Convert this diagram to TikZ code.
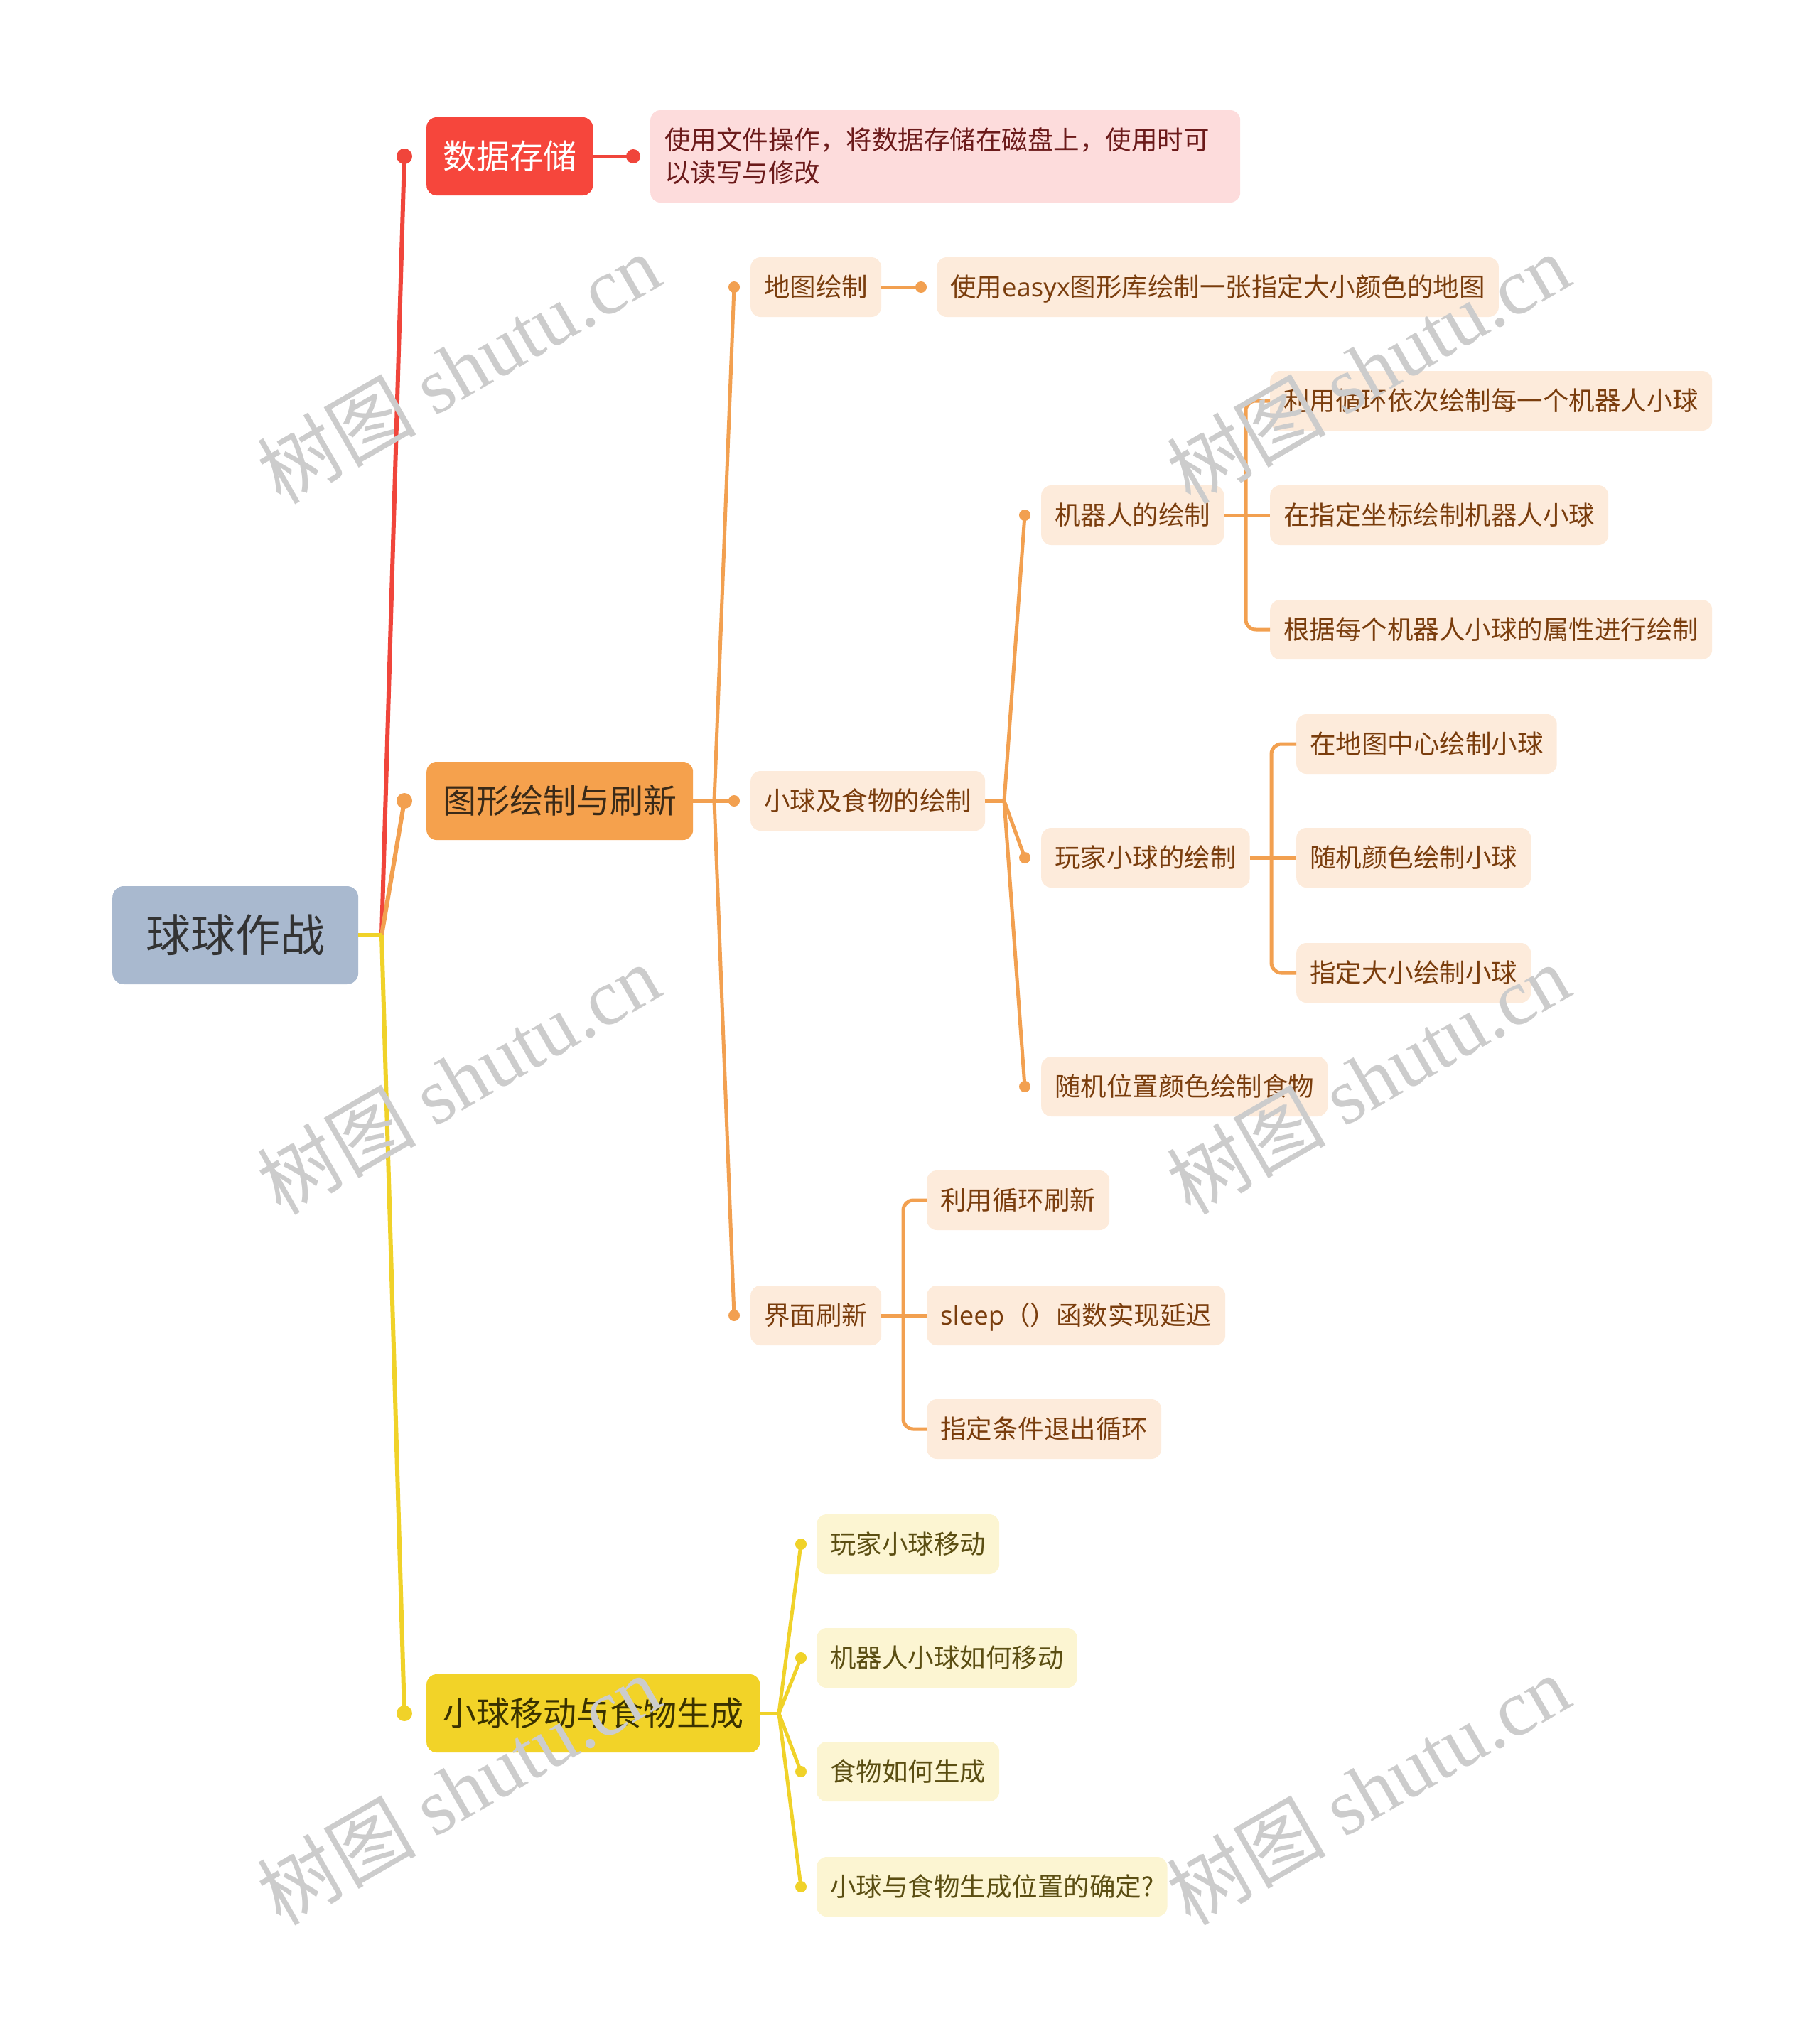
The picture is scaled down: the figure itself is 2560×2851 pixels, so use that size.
\documentclass[tikz,border=0pt]{standalone}
\usepackage{fontspec}
\setmainfont{Noto Sans CJK SC}
\newfontfamily\wmserif{Liberation Serif}
\newfontfamily\wmcjk{Noto Sans CJK SC}
\newfontfamily\latinpart{Open Sans}
\definecolor{cRoot}{HTML}{A9B9CF}
\definecolor{cRootTxt}{HTML}{333333}
\definecolor{cRed}{HTML}{F6463C}
\definecolor{cRedLine}{HTML}{F0453B}
\definecolor{cRedLeaf}{HTML}{FDDCDC}
\definecolor{cRedTxt}{HTML}{6B1A1A}
\definecolor{cOr}{HTML}{F5A14D}
\definecolor{cOrLine}{HTML}{F2A050}
\definecolor{cOrLeaf}{HTML}{FDEBDB}
\definecolor{cOrTxt}{HTML}{7A3D0D}
\definecolor{cOrMainTxt}{HTML}{3A2A18}
\definecolor{cYe}{HTML}{F2D328}
\definecolor{cYeLine}{HTML}{F0D229}
\definecolor{cYeLeaf}{HTML}{FCF5D2}
\definecolor{cYeTxt}{HTML}{5B4E12}
\definecolor{cYeMainTxt}{HTML}{3A3200}
\definecolor{cWm}{HTML}{CCCCCC}
\begin{document}
\begin{tikzpicture}[x=1pt,y=-1pt,
  basebox/.style={rounded corners=14pt, anchor=west, inner ysep=0pt},
  leafbox/.style={basebox, font=\fontsize{36.5pt}{46pt}\selectfont, inner xsep=19pt,
    minimum height=84pt, text height=31pt, text depth=5pt},
  leafO/.style={leafbox, fill=cOrLeaf, text=cOrTxt},
  leafY/.style={leafbox, fill=cYeLeaf, text=cYeTxt},
  mainbox/.style={basebox, font=\fontsize{47pt}{56pt}\selectfont, inner xsep=23pt,
    minimum height=110pt, text height=41pt, text depth=6pt},
  rootbox/.style={basebox, fill=cRoot, text=cRootTxt, font=\fontsize{63pt}{70pt}\selectfont,
    inner xsep=47pt, minimum height=138pt, text height=55pt, text depth=8pt, rounded corners=16pt},
  lineR/.style={draw=cRedLine, line width=6pt},
  lineO/.style={draw=cOrLine, line width=6pt},
  lineY/.style={draw=cYeLine, line width=6pt},
  subO/.style={draw=cOrLine, line width=5pt},
  subY/.style={draw=cYeLine, line width=5pt},
  elbowO/.style={draw=cOrLine, line width=5pt, rounded corners=14pt},
  wm/.style={text=cWm, rotate=30, font=\fontsize{112pt}{112pt}\selectfont, inner sep=0pt},
]
\useasboundingbox (0,0) rectangle (2560,2851);

% ---------- root ----------
\node[rootbox] (root) at (158,1316) {球球作战};
\coordinate (J0) at (537,1316);
\coordinate (dR) at (569,220);
\coordinate (dO) at (569,1127);
\coordinate (dY) at (569,2411);

% ---------- red branch ----------
\node[mainbox, fill=cRed, text=white] (n1) at (600,220) {数据存储};
\node[basebox, fill=cRedLeaf, text=cRedTxt, font=\fontsize{36.5pt}{46pt}\selectfont,
  text width=790pt, align=left, inner xsep=20pt, minimum height=130pt] (n1a) at (915,220)
  {使用文件操作，将数据存储在磁盘上，使用时可\\以读写与修改};
\coordinate (d1a) at (891,220);

% ---------- orange branch ----------
\node[mainbox, fill=cOr, text=cOrMainTxt] (n2) at (600,1127) {图形绘制与刷新};
\coordinate (J2) at (1005,1127);
\coordinate (d21) at (1033,404);
\coordinate (d22) at (1033,1127);
\coordinate (d23) at (1033,1851);
\node[leafO] (n21) at (1056,404) {地图绘制};
\coordinate (d21a) at (1296,404);
\node[leafO] (n21a) at (1318,404) {使用{\latinpart easyx}图形库绘制一张指定大小颜色的地图};

\node[leafO] (n22) at (1056,1127) {小球及食物的绘制};
\coordinate (J22) at (1413,1127);
\coordinate (d221) at (1442,725);
\coordinate (d222) at (1442,1207);
\coordinate (d223) at (1442,1529);
\node[leafO] (n221) at (1465,725) {机器人的绘制};
\node[leafO] (n222) at (1465,1207) {玩家小球的绘制};
\node[leafO] (n223) at (1465,1529) {随机位置颜色绘制食物};

\coordinate (B221) at (1753,725);
\node[leafO] (n2211) at (1787,564) {利用循环依次绘制每一个机器人小球};
\node[leafO] (n2212) at (1787,725) {在指定坐标绘制机器人小球};
\node[leafO] (n2213) at (1787,886) {根据每个机器人小球的属性进行绘制};

\coordinate (B222) at (1789,1207);
\node[leafO] (n2221) at (1824,1047) {在地图中心绘制小球};
\node[leafO] (n2222) at (1824,1207) {随机颜色绘制小球};
\node[leafO] (n2223) at (1824,1369) {指定大小绘制小球};

\node[leafO] (n23) at (1056,1851) {界面刷新};
\coordinate (B23) at (1271,1851);
\node[leafO] (n231) at (1304,1689) {利用循环刷新};
\node[leafO] (n232) at (1304,1851) {{\latinpart sleep}（）函数实现延迟};
\node[leafO] (n233) at (1304,2011) {指定条件退出循环};

% ---------- yellow branch ----------
\node[mainbox, fill=cYe, text=cYeMainTxt] (n3) at (600,2411) {小球移动与食物生成};
\coordinate (J3) at (1096,2411);
\coordinate (d31) at (1127,2173);
\coordinate (d32) at (1127,2333);
\coordinate (d33) at (1127,2493);
\coordinate (d34) at (1127,2655);
\node[leafY] (n31) at (1149,2173) {玩家小球移动};
\node[leafY] (n32) at (1149,2333) {机器人小球如何移动};
\node[leafY] (n33) at (1149,2493) {食物如何生成};
\node[leafY] (n34) at (1149,2655) {小球与食物生成位置的确定?};

% ---------- connectors ----------
\draw[lineR] (J0) -- (dR);
\draw[lineO] (J0) -- (dO);
\draw[lineY] (J0) -- (dY);
\draw[lineY] (root.east) -- (J0);
\fill[cRedLine] (dR) circle (11);
\fill[cOrLine] (dO) circle (11);
\fill[cYeLine] (dY) circle (11);

\draw[subO, draw=cRedLine] (n1.east) -- (d1a);
\fill[cRedLine] (d1a) circle (10);

\draw[subO] (n2.east) -- (J2);
\foreach \d in {d21,d22,d23} {\draw[subO] (J2) -- (\d); \fill[cOrLine] (\d) circle (8);}
\draw[subO] (n21.east) -- (d21a);
\fill[cOrLine] (d21a) circle (8);

\draw[subO] (n22.east) -- (J22);
\foreach \d in {d221,d222,d223} {\draw[subO] (J22) -- (\d); \fill[cOrLine] (\d) circle (8);}

\draw[elbowO] (n221.east) -- (n2212.west);
\draw[elbowO] (B221) |- (n2211.west);
\draw[elbowO] (B221) |- (n2213.west);

\draw[elbowO] (n222.east) -- (n2222.west);
\draw[elbowO] (B222) |- (n2221.west);
\draw[elbowO] (B222) |- (n2223.west);

\draw[elbowO] (n23.east) -- (n232.west);
\draw[elbowO] (B23) |- (n231.west);
\draw[elbowO] (B23) |- (n233.west);

\draw[subY] (n3.east) -- (J3);
\foreach \d in {d31,d32,d33,d34} {\draw[subY] (J3) -- (\d); \fill[cYeLine] (\d) circle (8);}

% ---------- watermarks ----------
\foreach \p [count=\i] in {(645,518),(645,1518),(645,2518),(1925,518),(1925,1518),(1925,2518)} {
  \node[wm] (wm\i) at \p {{\wmcjk 树图} {\wmserif shutu.cn}};
}
\end{tikzpicture}
\end{document}
